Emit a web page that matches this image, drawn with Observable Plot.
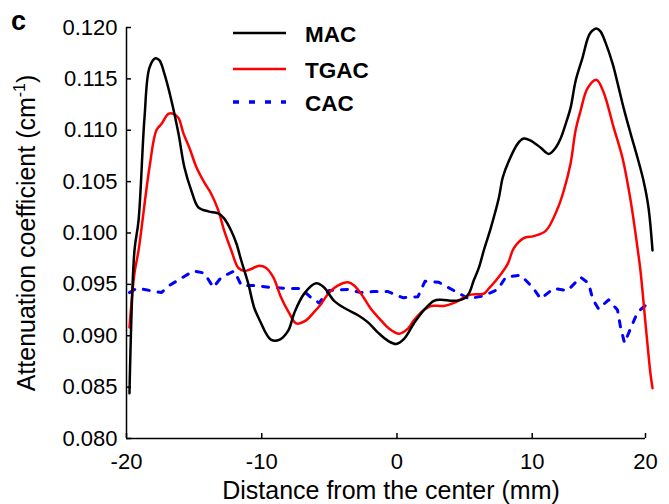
<!DOCTYPE html>
<html><head><meta charset="utf-8">
<script src="https://cdn.jsdelivr.net/npm/d3@7"></script>
<script src="https://cdn.jsdelivr.net/npm/@observablehq/plot@0.6"></script>
<style>body{margin:0;background:#fff} svg{display:block}</style>
</head><body><div id="chart"></div>
<script>
const seriesNames = ["MAC", "TGAC", "CAC"];
const xTicks = [-20, -10, 0, 10, 20];
const yTicks = [0.080, 0.085, 0.090, 0.095, 0.100, 0.105, 0.110, 0.115, 0.120];

const macX = [-19.78,-19.41,-19.11,-18.67,-18.30,-17.86,-17.56,-17.20,-16.68,-16.16,-15.72,-15.20,-14.69,-13.95,-13.21,-12.77,-12.25,-11.88,-11.51,-11.00,-10.55,-10.04,-9.67,-9.30,-8.71,-8.04,-7.60,-6.86,-5.98,-5.39,-4.65,-3.76,-2.88,-2.14,-1.40,-0.66,-0.07,0.52,1.25,1.99,2.73,3.25,4.21,4.94,5.31,5.68,6.05,6.42,6.94,7.53,7.82,8.27,8.93,9.37,9.89,10.75,11.45,12.07,12.51,12.95,13.39,13.83,14.45,14.89,15.15,15.68,16.04,16.48,17.09,17.62,18.06,18.68,19.30,19.82,20.26,20.62];
const macY = [0.0844,0.0983,0.1012,0.1112,0.1161,0.1170,0.1168,0.1155,0.1129,0.1097,0.1064,0.1041,0.1025,0.1021,0.1019,0.1014,0.1002,0.0990,0.0973,0.0951,0.0927,0.0912,0.0902,0.0896,0.0896,0.0905,0.0922,0.0941,0.0951,0.0947,0.0934,0.0926,0.0920,0.0913,0.0903,0.0895,0.0892,0.0897,0.0912,0.0925,0.0934,0.0935,0.0934,0.0936,0.0941,0.0954,0.0966,0.0983,0.1005,0.1034,0.1054,0.1070,0.1087,0.1092,0.1090,0.1083,0.1077,0.1083,0.1092,0.1106,0.1122,0.1148,0.1171,0.1189,0.1195,0.1199,0.1196,0.1185,0.1165,0.1142,0.1122,0.1097,0.1073,0.1051,0.1025,0.0983];

const tgacX = [-19.78,-19.41,-19.11,-18.30,-17.79,-17.42,-16.90,-16.53,-16.16,-15.79,-15.35,-14.83,-14.24,-13.73,-13.21,-12.77,-12.25,-11.73,-11.29,-10.77,-10.26,-9.67,-9.15,-8.56,-7.97,-7.45,-6.72,-6.20,-5.61,-5.02,-4.35,-3.62,-3.17,-2.66,-1.92,-1.18,-0.59,0.15,0.81,1.25,1.99,2.51,3.47,4.21,4.94,5.46,6.42,6.79,7.45,8.19,8.63,9.37,10.13,11.19,12.25,12.78,13.39,13.83,14.27,14.89,15.68,16.30,17.18,17.97,18.68,19.30,19.56,20.00,20.44,20.62];
const tgacY = [0.0908,0.0961,0.0983,0.1064,0.1100,0.1106,0.1116,0.1116,0.1112,0.1097,0.1083,0.1064,0.1049,0.1038,0.1022,0.1002,0.0983,0.0966,0.0963,0.0965,0.0968,0.0966,0.0957,0.0937,0.0922,0.0912,0.0915,0.0922,0.0931,0.0942,0.0949,0.0952,0.0949,0.0941,0.0926,0.0915,0.0907,0.0902,0.0907,0.0915,0.0925,0.0929,0.0929,0.0932,0.0937,0.0940,0.0941,0.0946,0.0956,0.0970,0.0985,0.0995,0.0997,0.1002,0.1024,0.1041,0.1068,0.1100,0.1119,0.1141,0.1149,0.1137,0.1103,0.1073,0.1032,0.0985,0.0963,0.0912,0.0863,0.0849];

const cacX = [-19.78,-19.26,-18.67,-17.42,-16.83,-15.94,-15.06,-14.24,-13.58,-12.99,-12.03,-11.51,-10.55,-9.30,-8.04,-7.08,-6.35,-5.76,-5.02,-3.62,-2.66,-1.70,-0.66,0.44,1.55,2.07,3.10,4.21,5.31,6.42,7.45,8.04,9.15,10.04,10.75,11.89,13.13,14.27,14.98,15.33,15.86,16.74,17.53,17.80,18.15,18.68,19.30,20.26];
const cacY = [0.0942,0.0946,0.0945,0.0942,0.0949,0.0956,0.0963,0.0961,0.0947,0.0957,0.0963,0.0949,0.0949,0.0947,0.0946,0.0946,0.0937,0.0932,0.0944,0.0945,0.0942,0.0943,0.0943,0.0937,0.0938,0.0953,0.0952,0.0944,0.0936,0.0939,0.0945,0.0957,0.0959,0.0947,0.0936,0.0946,0.0944,0.0957,0.0951,0.0936,0.0926,0.0935,0.0925,0.0908,0.0893,0.0907,0.0923,0.0932];

const rows = (xs, ys) => xs.map((x, i) => ({x, y: ys[i]}));
const mac = rows(macX, macY), tgac = rows(tgacX, tgacY), cac = rows(cacX, cacY);
const colors = {MAC: "#000000", TGAC: "#ff0000", CAC: "#0000ff"};

// the reference's x axis is compressed between 10 and 20 mm
const squeeze = 113.5 / 135.5;
const xWarp = v => v <= 10 ? v : 10 + (v - 10) * squeeze;

const W = 669, H = 504, mL = 126, mR = 24, mT = 27, mB = 66, tick = 5;
const chart = Plot.plot({
  width: W, height: H,
  marginLeft: mL, marginRight: mR, marginTop: mT, marginBottom: mB,
  style: {fontFamily: "'Liberation Sans', Arial, sans-serif", fontSize: "22px", color: "#000", background: "#fff", overflow: "visible"},
  x: {transform: xWarp, domain: [-20, xWarp(20)]},
  y: {domain: [0.080, 0.120]},
  marks: [
    Plot.ruleX([-20], {stroke: "#000", strokeWidth: 1.5}),
    Plot.ruleY([0.080], {stroke: "#000", strokeWidth: 1.5}),
    Plot.tickX(xTicks, {x: d => d, insetTop: H - mT - mB - tick, stroke: "#000", strokeWidth: 1.5}),
    Plot.tickY(yTicks, {y: d => d, insetRight: W - mL - mR - tick, stroke: "#000", strokeWidth: 1.5}),
    Plot.axisX(xTicks, {tickSize: 0, tickPadding: 15, tickFormat: d => String(d), label: null, fontSize: 22}),
    Plot.axisY(yTicks, {tickSize: 0, tickPadding: 9, tickFormat: d3.format(".3f"), label: null, fontSize: 22}),
    Plot.line(cac, {x: "x", y: "y", stroke: colors.CAC, strokeWidth: 3, strokeDasharray: "6,9"}),
    Plot.line(tgac, {x: "x", y: "y", stroke: colors.TGAC, strokeWidth: 2.5, curve: "catmull-rom"}),
    Plot.line(mac, {x: "x", y: "y", stroke: colors.MAC, strokeWidth: 2.5, curve: "catmull-rom"})
  ]
});
document.getElementById("chart").appendChild(chart);

const svg = d3.select(chart);
svg.append("text").attr("x", 11).attr("y", 30).attr("text-anchor", "start").attr("font-size", 27).attr("font-weight", "bold").text("c");
svg.append("text").attr("x", 391).attr("y", 499).attr("text-anchor", "middle").attr("font-size", 25).text("Distance from the center (mm)");
const yt = svg.append("text").attr("transform", "translate(35,233) rotate(-90)").attr("text-anchor", "middle").attr("font-size", 25);
yt.append("tspan").text("Attenuation coefficient (cm");
yt.append("tspan").attr("font-size", 16).attr("dy", -10).text("-1");
yt.append("tspan").attr("dy", 10).text(")");

const legendY = [33, 69, 102];
seriesNames.forEach((name, i) => {
  const g = svg.append("g");
  g.append("line").attr("x1", 233).attr("x2", 286).attr("y1", legendY[i]).attr("y2", legendY[i])
    .attr("stroke", colors[name]).attr("stroke-width", name === "CAC" ? 3.5 : 2.7)
    .attr("stroke-dasharray", name === "CAC" ? "6,10" : null);
  g.append("text").attr("x", 305).attr("y", legendY[i] + 8.5).attr("text-anchor", "start").attr("font-size", 22.5).attr("font-weight", "bold").text(name);
});
</script>
</body></html>
